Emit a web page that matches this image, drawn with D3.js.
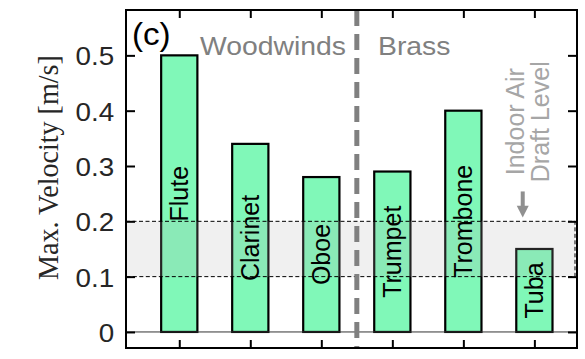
<!DOCTYPE html>
<html><head><meta charset="utf-8">
<script src="https://cdn.jsdelivr.net/npm/d3@7"></script>
<style>body{margin:0;background:#fff;} svg{display:block;}</style>
</head><body>
<svg id="chart" width="585" height="359"></svg>
<script>
const instruments = ["Flute","Clarinet","Oboe","Trumpet","Trombone","Tuba"];
const velocities = [0.50, 0.34, 0.28, 0.29, 0.40, 0.15];
const yTicks = [0, 0.1, 0.2, 0.3, 0.4, 0.5];
const yTickLabels = ["0","0.1","0.2","0.3","0.4","0.5"];
const draftBand = [0.1, 0.2];
const groupLabels = ["Woodwinds","Brass"];
const panelLabel = "(c)";
const yTitle = "Max. Velocity [m/s]";
const noteLines = ["Indoor Air","Draft Level"];

const svg = d3.select("#chart");
const L = 126, R = 577, T = 10, B = 348;
const x = d3.scaleLinear().domain([0.25, 6.6]).range([L, R]);
const y = d3.scaleLinear().domain([-0.029, 0.582]).range([B, T]);
const pos = instruments.map((d,i)=>i+1);
const halfW = 0.255;
const sans = "Liberation Sans, Arial, Helvetica, sans-serif";

svg.append("g").selectAll("rect").data(velocities).join("rect")
  .attr("x",(d,i)=>x(pos[i]-halfW)).attr("width",(d,i)=>x(pos[i]+halfW)-x(pos[i]-halfW))
  .attr("y",d=>y(d)).attr("height",d=>y(0)-y(d))
  .attr("fill","#80f8b8").attr("stroke","#000").attr("stroke-width",2.2);

svg.append("line").attr("x1",L).attr("x2",R).attr("y1",y(0)).attr("y2",y(0))
  .attr("stroke","#333").attr("stroke-width",1);

svg.append("rect").attr("x",L).attr("width",575-L)
  .attr("y",y(draftBand[1])).attr("height",y(draftBand[0])-y(draftBand[1]))
  .attr("fill","#b4b4b4").attr("fill-opacity",0.2)
  .attr("stroke","#000").attr("stroke-width",1).attr("stroke-dasharray","4,2.5");

svg.append("line").attr("x1",x(3.5)).attr("x2",x(3.5)).attr("y1",T).attr("y2",B)
  .attr("stroke","#808080").attr("stroke-width",5).attr("stroke-dasharray","16,8");

svg.append("g").selectAll("text").data(instruments).join("text")
  .attr("transform",(d,i)=>`translate(${x(pos[i])},${y(velocities[i]/2)}) rotate(-90)`)
  .attr("text-anchor","middle").attr("dy","0.35em")
  .attr("font-family",sans).attr("font-size",25).attr("fill","#000")
  .text(d=>d);

const tickStyle = g => { g.select(".domain").remove(); g.selectAll(".tick line").attr("stroke","#000").attr("stroke-width",2); };
svg.append("g").attr("transform",`translate(${L},0)`)
  .call(d3.axisLeft(y).tickValues(yTicks).tickFormat((d,i)=>yTickLabels[i]).tickSize(-9).tickPadding(11))
  .call(tickStyle)
  .call(g=>g.selectAll("text").attr("font-family",sans).attr("font-size",26).attr("fill","#262626")
     .attr("transform","scale(1.07,1)").attr("dy","0.36em"));
svg.append("g").attr("transform",`translate(${R},0)`)
  .call(d3.axisRight(y).tickValues(yTicks).tickFormat("").tickSize(-9)).call(tickStyle);
svg.append("g").attr("transform",`translate(0,${T})`)
  .call(d3.axisTop(x).tickValues(pos).tickFormat("").tickSize(-8)).call(tickStyle);
svg.append("g").attr("transform",`translate(0,${B})`)
  .call(d3.axisBottom(x).tickValues(pos).tickFormat("").tickSize(-8)).call(tickStyle);

svg.append("rect").attr("x",L).attr("y",T).attr("width",R-L).attr("height",B-T)
  .attr("fill","none").attr("stroke","#000").attr("stroke-width",2);

const hText = (tx, ty, str, size, color) => svg.append("g").attr("transform",`translate(${tx},${ty}) scale(1.07,1)`)
  .append("text").attr("font-family",sans).attr("font-size",size).attr("fill",color).text(str);
hText(132, 45, panelLabel, 31, "#000");
hText(200, 55, groupLabels[0], 26.5, "#808080");
hText(378, 55, groupLabels[1], 26.5, "#808080");

// y title: scaled along its length to span 225px
const titleG = svg.append("g");
const title = titleG.append("text").attr("text-anchor","start")
  .attr("font-family","Liberation Serif, Times New Roman, serif")
  .attr("font-size",30).attr("fill","#262626").text(yTitle);
const natural = title.node().getComputedTextLength() || 240;
const k = 225 / natural;
titleG.attr("transform",`translate(58,280) rotate(-90) scale(${k},1)`);

const note = svg.append("text").attr("transform",`translate(${x(5.85)},${y(0.38)}) rotate(-90)`)
  .attr("text-anchor","middle").attr("font-family",sans).attr("font-size",25).attr("fill","#a6a6a6");
noteLines.forEach((t,i)=>note.append("tspan").attr("x",0).attr("dy",i===0?0:25).text(t));

const ax = x(5.85)-1;
svg.append("line").attr("x1",ax).attr("x2",ax).attr("y1",y(0.254)).attr("y2",y(0.225))
  .attr("stroke","#909090").attr("stroke-width",4);
svg.append("path").attr("d",`M${ax-6},${y(0.228)} L${ax+6},${y(0.228)} L${ax},${y(0.207)} Z`).attr("fill","#909090");
</script>
</body></html>
